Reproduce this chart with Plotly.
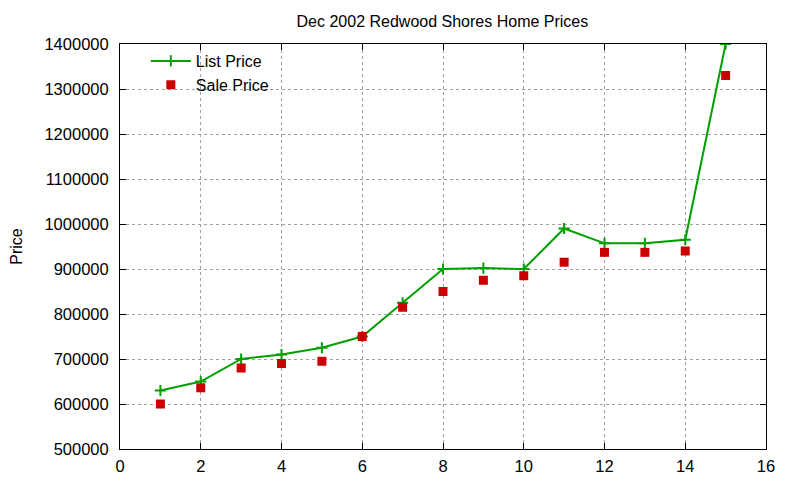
import plotly.graph_objects as go

# Dec 2002 Redwood Shores listings
home = [1, 2, 3, 4, 5, 6, 7, 8, 9, 10, 11, 12, 13, 14, 15]
list_price = [630000, 650000, 700000, 710000, 725000, 750000, 825000, 900000,
              902000, 900000, 990000, 957000, 957000, 965000, 1400000]
sale_price = [600000, 636000, 680000, 690000, 695000, 750000, 815000, 850000,
              875000, 885000, 915000, 937000, 937000, 940000, 1330000]

GREEN = "#00a000"
RED = "#cc0000"
FONT = "Liberation Sans, Arial, sans-serif"

fig = go.Figure()

fig.add_trace(go.Scatter(
    x=home, y=list_price, name="List Price",
    mode="lines+markers",
    line=dict(color=GREEN, width=2),
    marker=dict(symbol="cross-thin", size=8, line=dict(color=GREEN, width=2)),
))
fig.add_trace(go.Scatter(
    x=home, y=sale_price, name="Sale Price",
    mode="markers",
    marker=dict(symbol="square", size=9, color=RED),
))

# page body adds a small offset, margins compensate for it
fig.update_layout(
    width=800, height=480,
    paper_bgcolor="white", plot_bgcolor="white",
    font=dict(family=FONT, size=16, color="black"),
    title=dict(text="Dec 2002 Redwood Shores Home Prices", x=0.543, xanchor="center",
               y=0.972, yref="container", yanchor="middle", font=dict(size=16)),
    margin=dict(l=112, r=42, t=36, b=39),
    showlegend=True,
    legend=dict(x=0.04, y=1.0, xanchor="left", yanchor="top",
                bgcolor="rgba(0,0,0,0)", font=dict(size=16),
                tracegroupgap=0, itemwidth=40),
)

axis_common = dict(
    showline=True, linecolor="black", linewidth=1, mirror="allticks",
    ticks="inside", ticklen=6, tickcolor="black",
    showgrid=True, gridcolor="#a0a0a0", griddash="dot", gridwidth=1,
    zeroline=False, automargin=False, tickfont=dict(size=16.5, family=FONT),
)
fig.update_xaxes(range=[0, 16], dtick=2, tick0=0, ticklabelstandoff=2, **axis_common)
fig.update_yaxes(range=[500000, 1400000], dtick=100000, tickformat="d",
                 ticklabelstandoff=7,
                 title=dict(text="Price", standoff=30, font=dict(size=16)),
                 **axis_common)

fig.write_html("out.html")
